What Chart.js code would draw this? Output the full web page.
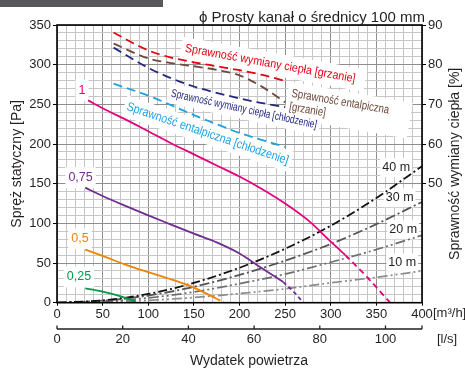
<!DOCTYPE html>
<html>
<head>
<meta charset="utf-8">
<script src="https://cdn.jsdelivr.net/npm/chart.js@4.4.1/dist/chart.umd.min.js"></script>
<style>
  html, body { margin: 0; padding: 0; background: #fff; }
  #wrap { position: relative; width: 465px; height: 370px; }
  #wrap canvas { position: absolute; left: 0; top: 0; }
  #bar { position: absolute; left: 0; top: 0; width: 163px; height: 7px; background: #58585a; }
</style>
</head>
<body>
<div id="wrap">
  <canvas id="chart" width="465" height="370"></canvas>
  <div id="bar"></div>
</div>
<script>
// ---- Fan curves: static pressure [Pa] against airflow [m³/h] ----
const fan100Flow = [34, 50, 75, 100, 125, 150, 175, 200, 225, 250, 275, 300, 316];
const fan100Pa   = [255, 245, 231, 216, 201, 187, 173, 159, 143, 125, 104, 77, 60];
const fan100TailFlow = [316, 340, 365];
const fan100TailPa   = [60, 32, 0];

const fan075Flow = [31, 50, 75, 100, 125, 150, 175, 200, 225, 248];
const fan075Pa   = [145, 134.5, 122, 110, 98.5, 87, 76, 62, 43, 26];
const fan075TailFlow = [248, 260, 270];
const fan075TailPa   = [26, 13, 0];

const fan050Flow = [31, 50, 75, 100, 125, 150, 175];
const fan050Pa   = [67, 59, 48, 38.5, 29.5, 19, 5];
const fan050TailFlow = [175, 183];
const fan050TailPa   = [5, 0];

const fan025Flow = [31, 50, 70, 82];
const fan025Pa   = [18, 14, 8, 3];
const fan025TailFlow = [82, 90];
const fan025TailPa   = [3, 0];

// ---- Exchanger efficiency [%] against airflow [m³/h] ----
const effFlow = [62, 100, 125, 150, 175, 200, 225, 250];
const effHeatRecoveryHeating = [88.1, 83.6, 81.8, 80.6, 79.6, 78.6, 77.4, 75.9];
const effEnthalpyHeating     = [85.3, 81.6, 80.4, 79.6, 78.7, 77.3, 74.4, 70.5];
const effHeatRecoveryCooling = [84.3, 79.2, 76.6, 74.5, 72.9, 71.5, 70.3, 69.3];
const effEnthalpyCooling     = [75.2, 72.2, 69.8, 67.3, 65.0, 62.8, 61.0, 59.3];

// ---- Straight Ø100 duct resistance [Pa] for several lengths ----
const ductFlow = [0, 50, 100, 150, 200, 250, 300, 350, 400];
const duct40m = [0, 3, 11, 25, 44, 68, 97, 132, 172];
const duct30m = [0, 2.5, 9, 20, 35, 53, 74, 99, 127];
const duct20m = [0, 1.5, 6, 13.5, 24, 36, 51, 67, 85];
const duct10m = [0, 0.8, 3, 6.5, 11.5, 17.5, 25, 32, 40];

// ---- Axis ranges ----
const flowMax = 400;            // m³/h
const pressureMax = 350;        // Pa
const effMin = 20, effMax = 90; // %
const litresPerSecondMax = flowMax / 3.6;

const FONT = '"Liberation Sans", Arial, sans-serif';
const INK = '#231f20';
const TICK_SIZE = 13;

const C = {
  magenta: '#e5007e', purple: '#6f2c91', orange: '#f08300', green: '#009a49',
  red: '#e60012', brown: '#6e4a3c', navy: '#25287f', sky: '#1ea1e1'
};

function pts(xs, ys) { return xs.map((x, i) => ({ x: x, y: ys[i] })); }
function curve(xs, ys, color, width, dash, axis) {
  return {
    data: pts(xs, ys), borderColor: color, borderWidth: width, borderDash: dash || [],
    yAxisID: axis || 'y', xAxisID: 'x', pointRadius: 0, fill: false,
    cubicInterpolationMode: 'monotone', borderCapStyle: 'butt'
  };
}

const datasets = [
  curve(fan100Flow, fan100Pa, C.magenta, 1.8),
  curve(fan100TailFlow, fan100TailPa, C.magenta, 1.8, [6, 4]),
  curve(fan075Flow, fan075Pa, C.purple, 1.8),
  curve(fan075TailFlow, fan075TailPa, C.purple, 1.8, [4, 3]),
  curve(fan050Flow, fan050Pa, C.orange, 1.8),
  curve(fan050TailFlow, fan050TailPa, C.orange, 1.8, [4, 3]),
  curve(fan025Flow, fan025Pa, C.green, 1.8),
  curve(fan025TailFlow, fan025TailPa, C.green, 1.8, [4, 3]),
  curve(effFlow, effHeatRecoveryHeating, C.red, 1.8, [9, 5], 'y2'),
  curve(effFlow, effEnthalpyHeating, C.brown, 1.8, [9, 5], 'y2'),
  curve(effFlow, effHeatRecoveryCooling, C.navy, 1.8, [9, 5], 'y2'),
  curve(effFlow, effEnthalpyCooling, C.sky, 1.8, [9, 5], 'y2'),
  curve(ductFlow, duct40m, '#111111', 1.8, [9, 3, 2, 3]),
  curve(ductFlow, duct30m, '#555555', 1.8, [10, 3, 2, 3]),
  curve(ductFlow, duct20m, '#6e6e6e', 1.7, [10, 3, 2, 3, 2, 3]),
  curve(ductFlow, duct10m, '#8c8c8c', 1.7, [10, 3, 2, 3, 2, 3])
];

// Text labels placed in data coordinates (flow m³/h, pressure Pa)
const notes = [
  { lines: ['1'], q: 27.4, p: 267.6, color: C.magenta, size: 12.5, align: 'center', pad: 3 },
  { lines: ['0,75'], q: 25.8, p: 157.6, color: C.purple, size: 12.5, align: 'center', pad: 3 },
  { lines: ['0,5'], q: 25.2, p: 80.5, color: C.orange, size: 12.5, align: 'center', pad: 3 },
  { lines: ['0,25'], q: 24.1, p: 32.5, color: C.green, size: 12.5, align: 'center', pad: 3 },
  { lines: ['40 m'], q: 371.7, p: 170.2, color: INK, size: 12.5, align: 'center', pad: 2 },
  { lines: ['30 m'], q: 375.5, p: 132.3, color: INK, size: 12.5, align: 'center', pad: 2 },
  { lines: ['20 m'], q: 379.4, p: 91.9, color: INK, size: 12.5, align: 'center', pad: 2 },
  { lines: ['10 m'], q: 378.3, p: 50.2, color: INK, size: 12.5, align: 'center', pad: 2 },
  { lines: ['Sprawność wymiany ciepła [grzanie]'], q: 140.4, p: 320.5, angle: 10.2, width: 173,
    color: C.red, size: 12, align: 'left', pad: 4, extraRight: 6 },
  { lines: ['Sprawność entalpiczna', '[grzanie]'], q: 257.1, p: 263.7, angle: 9.8, width: 99, gap: 13.5,
    color: C.brown, size: 12, align: 'left', pad: 4, extraRight: 18 },
  { lines: ['Sprawność wymiany ciepła [chłodzenie]'], q: 125, p: 263.7, angle: 12.3, width: 149,
    color: C.navy, size: 11.5, align: 'left', pad: 3 },
  { lines: ['Sprawność entalpiczna [chłodzenie]'], q: 76.8, p: 247.3, angle: 18.7, width: 170,
    color: C.sky, size: 12.5, align: 'left', pad: 3 }
];

function noteGeometry(ctx, n) {
  ctx.font = n.size + 'px ' + FONT;
  const widths = n.lines.map(l => ctx.measureText(l).width);
  const sx = n.width ? n.width / widths[0] : 1;
  return { widths: widths, sx: sx, maxW: Math.max.apply(null, widths) };
}

function drawNote(chart, n, phase) {
  const ctx = chart.ctx;
  const x = chart.scales.x.getPixelForValue(n.q);
  const y = chart.scales.y.getPixelForValue(n.p);
  const g = noteGeometry(ctx, n);
  const gap = n.gap || n.size * 1.1;
  ctx.save();
  ctx.translate(x, y);
  ctx.rotate((n.angle || 0) * Math.PI / 180);
  ctx.scale(g.sx, 1);
  const left = n.align === 'center' ? -g.maxW / 2 : 0;
  if (phase === 'box') {
    const padX = n.pad / g.sx;
    ctx.fillStyle = '#ffffff';
    ctx.fillRect(left - padX, -n.size * 0.6 - n.pad,
      g.maxW + 2 * padX + (n.extraRight || 0) / g.sx,
      n.size * 1.2 + (n.lines.length - 1) * gap + 2 * n.pad);
  } else {
    ctx.fillStyle = n.color;
    ctx.textBaseline = 'middle';
    ctx.textAlign = 'left';
    n.lines.forEach((l, i) => ctx.fillText(l, left, i * gap));
  }
  ctx.restore();
}

const overlay = {
  id: 'overlay',
  beforeDatasetsDraw(chart) {
    notes.forEach(n => drawNote(chart, n, 'box'));
  },
  afterDatasetsDraw(chart) {
    const ctx = chart.ctx, a = chart.chartArea;
    notes.forEach(n => drawNote(chart, n, 'text'));
    // plot frame
    ctx.save();
    ctx.strokeStyle = '#000';
    ctx.lineWidth = 1.6;
    ctx.strokeRect(a.left, a.top, a.right - a.left, a.bottom - a.top);
    ctx.restore();
  },
  afterDraw(chart) {
    const ctx = chart.ctx, a = chart.chartArea;
    const x2 = chart.scales.x2;
    ctx.save();
    // secondary flow axis in l/s: base line with upward ticks
    const ly = 329;
    ctx.strokeStyle = INK;
    ctx.lineWidth = 1.3;
    ctx.beginPath();
    ctx.moveTo(a.left, ly);
    ctx.lineTo(a.right, ly);
    x2.ticks.forEach(t => {
      const px = x2.getPixelForValue(t.value);
      ctx.moveTo(px, ly);
      ctx.lineTo(px, ly - 3.5);
    });
    ctx.moveTo(a.right, ly);
    ctx.lineTo(a.right, ly - 3.5);
    ctx.stroke();

    ctx.fillStyle = INK;
    ctx.textBaseline = 'middle';
    ctx.font = TICK_SIZE + 'px ' + FONT;
    ctx.textAlign = 'left';
    ctx.fillText('[m³/h]', 433, 313.5);
    ctx.fillText('[l/s]', 437, 339.5);

    // titles
    ctx.font = '15px ' + FONT;
    ctx.textAlign = 'right';
    ctx.textBaseline = 'alphabetic';
    ctx.fillText('ϕ Prosty kanał o średnicy 100 mm', 425, 21.5);

    ctx.font = '14px ' + FONT;
    ctx.textAlign = 'center';
    ctx.textBaseline = 'middle';
    ctx.fillText('Wydatek powietrza', 249, 361);

    const midY = (a.top + a.bottom) / 2;
    ctx.save();
    ctx.translate(17, midY);
    ctx.rotate(-Math.PI / 2);
    ctx.fillText('Spręż statyczny [Pa]', 0, 0);
    ctx.restore();

    ctx.save();
    ctx.translate(455, midY);
    ctx.rotate(-Math.PI / 2);
    ctx.fillText('Sprawność wymiany ciepła [%]', 0, 0);
    ctx.restore();

    ctx.restore();
  }
};

const MAJOR = '#8e8e8e', MINOR = '#c6c6c6';
const isMajor = v => Math.abs(v % 50) < 1e-6;

new Chart(document.getElementById('chart'), {
  type: 'line',
  data: { datasets: datasets },
  options: {
    responsive: false,
    animation: false,
    events: [],
    layout: { padding: { top: 25, left: 0, right: 0, bottom: 0 } },
    plugins: { legend: { display: false }, tooltip: { enabled: false } },
    scales: {
      x: {
        type: 'linear', position: 'bottom', weight: 0, min: 0, max: flowMax,
        ticks: {
          stepSize: 10, autoSkip: false, maxRotation: 0, maxTicksLimit: 1000, padding: 1,
          color: INK, font: { family: FONT, size: TICK_SIZE },
          callback: v => isMajor(v) ? String(v) : ''
        },
        grid: {
          color: c => isMajor(c.tick.value) ? MAJOR : MINOR, lineWidth: 1,
          tickLength: 3, tickColor: c => isMajor(c.tick.value) ? '#000' : 'rgba(0,0,0,0)'
        },
        border: { display: false },
        afterFit: s => { s.height = 22; }
      },
      x2: {
        type: 'linear', position: 'bottom', weight: 1, min: 0, max: litresPerSecondMax,
        ticks: {
          stepSize: 20, includeBounds: false, autoSkip: false, maxRotation: 0, padding: 7,
          color: INK, font: { family: FONT, size: TICK_SIZE }
        },
        grid: { display: false, drawTicks: false },
        border: { display: false },
        afterFit: s => { s.height = 45.3; }
      },
      y: {
        type: 'linear', position: 'left', min: 0, max: pressureMax,
        ticks: {
          stepSize: 10, autoSkip: false, maxTicksLimit: 1000, padding: 2,
          color: INK, font: { family: FONT, size: TICK_SIZE },
          callback: v => isMajor(v) ? String(v) : ''
        },
        grid: {
          color: c => isMajor(c.tick.value) ? MAJOR : MINOR, lineWidth: 1,
          tickLength: 4, tickColor: c => isMajor(c.tick.value) ? '#000' : 'rgba(0,0,0,0)'
        },
        border: { display: false },
        afterFit: s => { s.width = 57; }
      },
      y2: {
        type: 'linear', position: 'right', min: effMin, max: effMax,
        ticks: {
          stepSize: 10, autoSkip: false, padding: 2,
          color: INK, font: { family: FONT, size: TICK_SIZE },
          callback: v => v >= 50 ? String(v) : ''
        },
        grid: {
          drawOnChartArea: false, tickLength: 4,
          tickColor: c => c.tick.value >= 50 ? '#000' : 'rgba(0,0,0,0)'
        },
        border: { display: false },
        afterFit: s => { s.width = 43; }
      }
    }
  },
  plugins: [overlay]
});
</script>
</body>
</html>
